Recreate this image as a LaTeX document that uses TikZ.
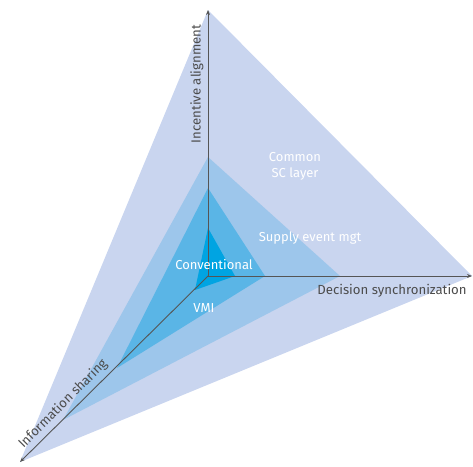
\documentclass[tikz,border=0pt]{standalone}
\usepackage{fontspec}
\setmainfont{Fira Sans}
\usepackage{xcolor}
\usetikzlibrary{arrows.meta}

\definecolor{outerlayer}{HTML}{C9D5EF}
\definecolor{eventlayer}{HTML}{9DC6EB}
\definecolor{vmilayer}{HTML}{5AB5E6}
\definecolor{convlayer}{HTML}{00A4E2}
\definecolor{axisgray}{HTML}{555555}

\begin{document}
\begin{tikzpicture}[x=1pt, y=-1pt,
  axis/.style={axisgray, line width=0.9pt, -{Stealth[length=5pt, width=4pt]}},
  axislabel/.style={text=axisgray!90!black, font=\fontsize{13.2}{15}\selectfont, inner sep=1pt},
  layerlabel/.style={text=white, font=\fontsize{13}{16}\selectfont, align=center, inner sep=1pt}]
\useasboundingbox (0,0) rectangle (473,466);

\coordinate (O) at (208,276);
\coordinate (incentive) at (208,10);
\coordinate (decision) at (472,276);
\coordinate (information) at (20,462);

% Common SC layer
\fill[outerlayer] (incentive) -- (decision) -- (information) -- cycle;
% Supply event mgt
\fill[eventlayer] (208,157) -- (340,276) -- (63,420) -- cycle;
% VMI
\fill[vmilayer] (208,188) -- (265,276) -- (117,368) -- cycle;
% Conventional
\fill[convlayer] (208,228) -- (235,276) -- (195,290) -- cycle;

% Axes
\draw[axis] (O) -- (incentive);
\draw[axis] (O) -- (decision);
\draw[axis] (O) -- (information);

\node[axislabel, rotate=90] (incentivelabel) at (197,84) {Incentive alignment};
\node[axislabel] (decisionlabel) at (392,291) {Decision synchronization};
\node[axislabel, rotate=45] (informationlabel) at (63,404) {Information sharing};

\node[layerlabel] (common) at (295,166) {Common\\SC layer};
\node[layerlabel] (event) at (310,238) {Supply event mgt};
\node[layerlabel] (conv) at (214,265) {Conventional};
\node[layerlabel] (vmi) at (204,308) {VMI};

\end{tikzpicture}
\end{document}
